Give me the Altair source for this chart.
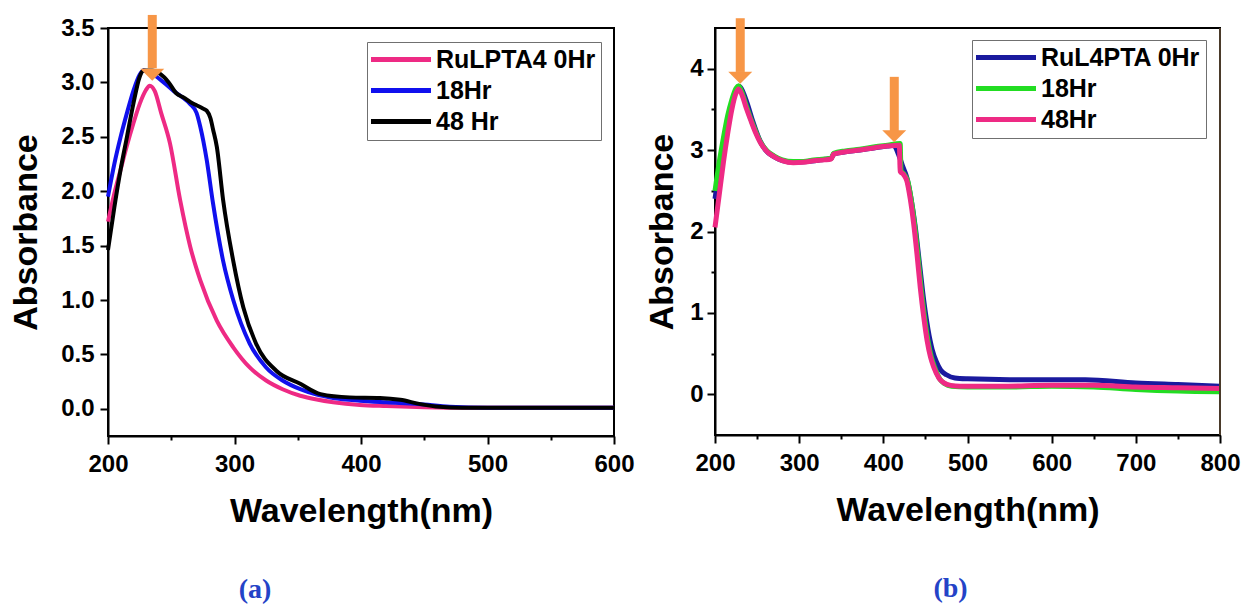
import altair as alt
import pandas as pd

# ---------------- panel (a): RuLPTA4 ----------------
a_labels = ["RuLPTA4 0Hr", "18Hr", "48 Hr"]
a_colors = ["#EE2A84", "#1010EE", "#000000"]

a0_wl = [200, 205, 210, 215, 220, 225, 230, 233, 237, 242, 249, 257, 265, 273, 286,
         299, 312, 325, 338, 352, 365, 378, 399, 420, 450, 480, 500, 550, 600]
a0_abs = [1.72, 1.98, 2.20, 2.42, 2.62, 2.80, 2.93, 2.97, 2.92, 2.72, 2.44, 1.92, 1.49,
          1.18, 0.81, 0.565, 0.38, 0.26, 0.18, 0.12, 0.085, 0.06, 0.035, 0.025, 0.015,
          0.01, 0.01, 0.01, 0.01]

a18_wl = [200, 205, 210, 215, 220, 225, 228, 235, 244, 252, 258, 265, 270, 273, 278,
          283, 291, 299, 312, 325, 338, 352, 365, 378, 399, 420, 445, 470, 500, 550, 600]
a18_abs = [1.95, 2.25, 2.50, 2.72, 2.92, 3.07, 3.11, 3.08, 3.00, 2.92, 2.87, 2.80, 2.72,
           2.59, 2.29, 1.89, 1.36, 1.00, 0.60, 0.38, 0.26, 0.18, 0.13, 0.10, 0.075, 0.06,
           0.045, 0.02, 0.01, 0.01, 0.01]

a48_wl = [200, 205, 210, 215, 220, 225, 228, 235, 241, 248, 254, 260, 265, 270, 275,
          278, 281, 283, 286, 291, 299, 307, 317, 333, 352, 368, 391, 415, 431, 447, 462,
          480, 500, 550, 600]
a48_abs = [1.46, 1.85, 2.20, 2.50, 2.80, 3.05, 3.11, 3.11, 3.08, 3.00, 2.90, 2.86, 2.82,
           2.79, 2.76, 2.74, 2.67, 2.57, 2.41, 1.92, 1.36, 0.93, 0.60, 0.35, 0.23, 0.135,
           0.105, 0.10, 0.083, 0.043, 0.018, 0.01, 0.01, 0.01, 0.01]

# arrow marking the band that changes (wavelength, shaft top, shaft bottom, head centre)
a_arrow_wl = [235]
a_arrow_top = [3.62]
a_arrow_base = [3.13]
a_arrow_head = [3.07]

# ---------------- panel (b): RuL4PTA ----------------
b_labels = ["RuL4PTA 0Hr", "18Hr", "48Hr"]
b_colors = ["#1A1A9E", "#22DD22", "#EE2A84"]

b0_wl = [200, 205, 210, 215, 220, 225, 229, 233, 238, 245, 252, 260, 270, 280, 293,
         310, 325, 338, 341, 355, 372, 390, 405, 412, 418, 423, 428, 433, 438, 443, 448,
         453, 458, 463, 468, 475, 485, 500, 550, 600, 640, 700, 750, 800]
b0_abs = [2.40, 2.75, 3.05, 3.35, 3.58, 3.74, 3.78, 3.72, 3.58, 3.35, 3.15, 3.00, 2.92,
          2.87, 2.85, 2.86, 2.88, 2.90, 2.95, 2.98, 3.00, 3.03, 3.05, 3.06, 2.95, 2.80,
          2.66, 2.40, 2.05, 1.60, 1.15, 0.80, 0.55, 0.40, 0.30, 0.24, 0.20, 0.19, 0.18,
          0.18, 0.18, 0.14, 0.12, 0.10]

b18_wl = [200, 205, 210, 215, 220, 225, 228, 232, 237, 242, 248, 254, 262, 270, 280,
          293, 305, 317, 330, 338, 341, 355, 372, 390, 405, 420, 421, 425, 429, 433, 437,
          441, 445, 449, 453, 457, 461, 467, 473, 481, 500, 550, 600, 650, 700, 750, 800]
b18_abs = [2.50, 2.85, 3.15, 3.42, 3.62, 3.76, 3.79, 3.71, 3.55, 3.40, 3.24, 3.10, 2.99,
           2.93, 2.88, 2.86, 2.86, 2.88, 2.89, 2.90, 2.96, 2.99, 3.01, 3.04, 3.06, 3.08,
           2.75, 2.70, 2.62, 2.40, 2.10, 1.72, 1.30, 0.95, 0.66, 0.46, 0.33, 0.19, 0.13,
           0.10, 0.09, 0.09, 0.10, 0.09, 0.06, 0.04, 0.03]

b48_wl = [200, 205, 210, 215, 220, 225, 228, 232, 237, 242, 248, 254, 262, 270, 280,
          293, 305, 317, 330, 338, 341, 355, 372, 390, 405, 419, 420, 424, 428, 432, 436,
          440, 444, 448, 452, 456, 460, 466, 472, 480, 491, 540, 600, 650, 700, 750, 800]
b48_abs = [2.05, 2.45, 2.85, 3.20, 3.50, 3.70, 3.75, 3.68, 3.52, 3.38, 3.22, 3.09, 2.98,
           2.92, 2.87, 2.845, 2.85, 2.87, 2.88, 2.89, 2.95, 2.98, 3.00, 3.03, 3.05, 3.06,
           2.74, 2.70, 2.62, 2.40, 2.10, 1.72, 1.30, 0.95, 0.66, 0.46, 0.33, 0.20, 0.14,
           0.11, 0.10, 0.10, 0.11, 0.11, 0.09, 0.08, 0.07]

b_arrow_wl = [230, 413]
b_arrow_top = [4.62, 3.90]
b_arrow_base = [3.96, 3.23]
b_arrow_head = [3.89, 3.17]

ARROW = "#F79646"
FONT = "Liberation Sans"
HEAD_PATH = "M-1,-0.5L1,-0.5L0,0.5Z"


def series_frame(wl, ab, name):
    return pd.DataFrame({"wl": wl, "abs": ab, "series": name})


def axis(values, label_test, minor_test, title, fmt, label_pad, title_pad):
    return alt.Axis(
        values=values,
        labelExpr=f"({label_test}) ? format(datum.value, '{fmt}') : ''",
        tickSize={"condition": {"test": minor_test, "value": 4}, "value": 8},
        tickWidth=2, tickColor="black",
        domainColor="black", domainWidth=2,
        labelFont=FONT, labelFontSize=24, labelFontWeight="bold", labelColor="black",
        labelFlush=False, labelOverlap=False, labelPadding=label_pad,
        title=title, titleFont=FONT, titleFontSize=34, titleFontWeight="bold",
        titleColor="black", titlePadding=title_pad, grid=False,
    )


def legend(x, y):
    return alt.Legend(
        orient="none", legendX=x, legendY=y, title=None,
        strokeColor="#707070", fillColor="white", padding=5, rowPadding=5,
        symbolType="M-1.8,0L6.2,0", symbolSize=225, symbolStrokeWidth=5,
        labelOffset=39, labelFont=FONT, labelFontSize=25, labelFontWeight="bold",
        labelColor="black", labelLimit=400,
    )


def panel(frames, labels, colors, line_w, xdom, ydom, xaxis, yaxis, leg, arrows, width,
          height, caption, dx, edge_color=None):
    x = alt.X("wl:Q", scale=alt.Scale(domain=xdom, nice=False, zero=False), axis=xaxis)
    y = alt.Y("abs:Q", scale=alt.Scale(domain=ydom, nice=False, zero=False), axis=yaxis)
    color = alt.Color("series:N", scale=alt.Scale(domain=labels, range=colors), legend=leg)
    # one layer per series so the later series are drawn on top
    layers = [
        alt.Chart(f).mark_line(strokeWidth=line_w, interpolate="monotone")
        .encode(x=x, y=y, color=color)
        for f in frames
    ]
    if edge_color:
        # right-hand frame edge in its own colour
        layers.append(
            alt.Chart(pd.DataFrame({"wl": [xdom[1]]}))
            .mark_rule(color=edge_color, strokeWidth=2)
            .encode(x="wl:Q")
        )
    ad = pd.DataFrame(arrows)
    layers.append(
        alt.Chart(ad).mark_rule(color=ARROW, strokeWidth=9)
        .encode(x="wl:Q", y="top:Q", y2="base:Q")
    )
    layers.append(
        alt.Chart(ad).mark_point(shape=HEAD_PATH, size=576, filled=True, opacity=1,
                                 color=ARROW, strokeWidth=0)
        .encode(x="wl:Q", y="head:Q")
    )
    return alt.layer(*layers).properties(
        width=width, height=height,
        title=alt.TitleParams(caption, orient="bottom", anchor="middle", dx=dx, offset=48,
                              font="Liberation Serif", fontSize=28, fontWeight="bold",
                              color="#2443C7"),
    )


frames_a = [series_frame(a0_wl, a0_abs, a_labels[0]),
            series_frame(a18_wl, a18_abs, a_labels[1]),
            series_frame(a48_wl, a48_abs, a_labels[2])]
frames_b = [series_frame(b0_wl, b0_abs, b_labels[0]),
            series_frame(b18_wl, b18_abs, b_labels[1]),
            series_frame(b48_wl, b48_abs, b_labels[2])]

xa = axis(list(range(200, 601, 50)), "datum.value % 100 == 0", "datum.value % 100 != 0",
          "Wavelength(nm)", "d", 8, 18)
ya = axis([v / 4 for v in range(0, 15)],
          "abs(datum.value*2 - round(datum.value*2)) < 1e-6",
          "abs(datum.value*2 - round(datum.value*2)) > 1e-6",
          "Absorbance", ".1f", 6, 17)
xb = axis(list(range(200, 801, 50)), "datum.value % 100 == 0", "datum.value % 100 != 0",
          "Wavelength(nm)", "d", 8, 18)
yb = axis([v / 2 for v in range(0, 9)], "datum.value % 1 == 0", "datum.value % 1 != 0",
          "Absorbance", "d", 4, 10)

chart_a = panel(frames_a, a_labels, a_colors, 4, [200, 600], [-0.25, 3.5], xa, ya,
                legend(259, 14),
                {"wl": a_arrow_wl, "top": a_arrow_top, "base": a_arrow_base,
                 "head": a_arrow_head},
                506, 408, "(a)", -106)
chart_b = panel(frames_b, b_labels, b_colors, 5, [200, 800], [-0.5, 4.5], xb, yb,
                legend(257, 12),
                {"wl": b_arrow_wl, "top": b_arrow_top, "base": b_arrow_base,
                 "head": b_arrow_head},
                505, 407, "(b)", -17, edge_color="#4A3A2A")

chart = (
    alt.hconcat(chart_a, chart_b, spacing=8)
    .resolve_scale(color="independent")
    .configure_view(stroke="black", strokeWidth=2)
    .properties(background="white", padding={"left": 8, "top": 9, "right": 0, "bottom": 0})
)

chart.save("out.html", embed_options={"renderer": "svg", "actions": False})
